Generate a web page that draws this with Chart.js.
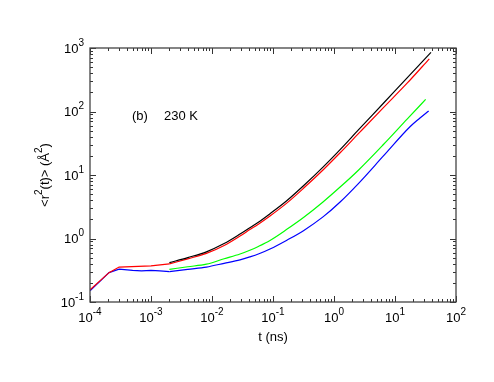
<!DOCTYPE html>
<html>
<head>
<meta charset="utf-8">
<script src="https://cdn.jsdelivr.net/npm/chart.js@4.4.0/dist/chart.umd.min.js"></script>
<style>
  html, body { margin: 0; padding: 0; background: #fff; }
</style>
</head>
<body>
<canvas id="msdChart" width="494" height="382"></canvas>
<script>
// time axis (ns) and <r^2(t)> (A^2)
const blackT = [0.002, 0.004, 0.0081, 0.0158, 0.0288, 0.0417, 0.0575, 0.0893, 0.166, 0.316, 0.66, 1.26, 2.51, 6.46, 15.8, 38.9];
const blackR = [0.417, 0.501, 0.617, 0.832, 1.175, 1.479, 1.80, 2.455, 3.89, 6.76, 13.3, 25.1, 51.3, 135, 339, 851];

// short-time part (straight segments) and long-time part
const redEarlyT = [0.0001, 0.000205, 0.0003, 0.001, 0.002];
const redEarlyR = [0.155, 0.29, 0.355, 0.37, 0.398];
const redT = [0.002, 0.004, 0.0081, 0.0158, 0.0288, 0.0417, 0.0575, 0.0893, 0.166, 0.316, 0.66, 1.26, 2.51, 6.46, 15.8, 36.5];
const redR = [0.398, 0.479, 0.582, 0.776, 1.096, 1.38, 1.68, 2.26, 3.57, 6.17, 12.0, 22.4, 44.7, 115, 279, 676];

const greenT = [0.002, 0.004, 0.0081, 0.0158, 0.0288, 0.0417, 0.0575, 0.0893, 0.166, 0.316, 0.66, 1.26, 2.51, 6.46, 15.8, 31.8];
const greenR = [0.327, 0.359, 0.394, 0.479, 0.569, 0.653, 0.75, 0.933, 1.38, 2.14, 3.76, 6.46, 11.9, 30.2, 75.9, 155];

const blueEarlyT = [0.0001, 0.000205, 0.0003, 0.0005, 0.0007, 0.001, 0.0014, 0.002];
const blueEarlyR = [0.15, 0.29, 0.33, 0.315, 0.31, 0.315, 0.31, 0.30];
const blueT = [0.002, 0.004, 0.0081, 0.0158, 0.0288, 0.0417, 0.0575, 0.0893, 0.166, 0.316, 0.66, 1.26, 2.51, 6.46, 17.6, 25.1, 35.6];
const blueR = [0.30, 0.327, 0.355, 0.407, 0.462, 0.513, 0.569, 0.684, 0.933, 1.33, 2.19, 3.76, 7.33, 19.95, 57.5, 77.6, 102];

const xExps = [-4, -3, -2, -1, 0, 1, 2];
const yExps = [-1, 0, 1, 2, 3];

const FONT = '"Liberation Sans", Arial, Helvetica, sans-serif';

function pts(t, r) {
    return t.map((v, i) => ({ x: v, y: r[i] }));
}

function line(label, t, r, color, smooth) {
    return {
        label,
        data: pts(t, r),
        borderColor: color,
        backgroundColor: color,
        borderWidth: 1.2,
        pointRadius: 0,
        tension: 0,
        cubicInterpolationMode: smooth ? "monotone" : "default",
        fill: false
    };
}

// draw "10" with a raised exponent
function drawPow(ctx, exp, x, y, align) {
    const base = "10";
    const sup = String(exp);
    ctx.font = "13px " + FONT;
    const bw = ctx.measureText(base).width;
    ctx.font = "10px " + FONT;
    const sw = ctx.measureText(sup).width;
    const total = bw + sw;
    let x0 = x;
    if (align === "center") x0 = x - total / 2;
    if (align === "right") x0 = x - total;
    ctx.textAlign = "left";
    ctx.textBaseline = "middle";
    ctx.font = "13px " + FONT;
    ctx.fillText(base, x0, y);
    ctx.font = "10px " + FONT;
    ctx.fillText(sup, x0 + bw, y - 6);
}

// text pieces: [string, isSuperscript]
function drawRich(ctx, parts, cx, cy) {
    let w = 0;
    parts.forEach(p => {
        ctx.font = (p[1] ? "10px " : "13px ") + FONT;
        w += ctx.measureText(p[0]).width;
    });
    let x = cx - w / 2;
    ctx.textAlign = "left";
    ctx.textBaseline = "middle";
    parts.forEach(p => {
        ctx.font = (p[1] ? "10px " : "13px ") + FONT;
        ctx.fillText(p[0], x, p[1] ? cy - 6 : cy);
        x += ctx.measureText(p[0]).width;
    });
}

const frame = {
    id: "frame",
    afterDraw(chart) {
        const ctx = chart.ctx;
        const a = chart.chartArea;
        const xs = chart.scales.x;
        const ys = chart.scales.y;
        ctx.save();

        // ticks, inward on all four sides
        ctx.strokeStyle = "#333";
        ctx.lineWidth = 1;
        ctx.beginPath();
        xExps.forEach((e, i) => {
            const steps = i < xExps.length - 1 ? [1, 2, 3, 4, 5, 6, 7, 8, 9] : [1];
            steps.forEach(k => {
                const px = Math.round(xs.getPixelForValue(k * Math.pow(10, e))) + 0.5;
                const len = k === 1 ? 6 : 3;
                ctx.moveTo(px, a.bottom);
                ctx.lineTo(px, a.bottom - len);
                ctx.moveTo(px, a.top);
                ctx.lineTo(px, a.top + len);
            });
        });
        yExps.forEach((e, i) => {
            const steps = i < yExps.length - 1 ? [1, 2, 3, 4, 5, 6, 7, 8, 9] : [1];
            steps.forEach(k => {
                const py = Math.round(ys.getPixelForValue(k * Math.pow(10, e))) + 0.5;
                const len = k === 1 ? 6 : 3;
                ctx.moveTo(a.left, py);
                ctx.lineTo(a.left + len, py);
                ctx.moveTo(a.right, py);
                ctx.lineTo(a.right - len, py);
            });
        });
        ctx.stroke();

        // border
        ctx.strokeStyle = "#444";
        ctx.lineWidth = 1.3;
        ctx.strokeRect(a.left, a.top, a.right - a.left, a.bottom - a.top);

        // tick labels
        ctx.fillStyle = "#000";
        xExps.forEach(e => {
            drawPow(ctx, e, xs.getPixelForValue(Math.pow(10, e)), a.bottom + 16, "center");
        });
        yExps.forEach(e => {
            drawPow(ctx, e, a.left - 6, ys.getPixelForValue(Math.pow(10, e)) + 1, "right");
        });

        // axis titles
        drawRich(ctx, [["t (ns)", false]], (a.left + a.right) / 2, 337);
        ctx.save();
        ctx.translate(45, (a.top + a.bottom) / 2);
        ctx.rotate(-Math.PI / 2);
        drawRich(ctx, [["<r", false], ["2", true], ["(t)> (", false], ["Å", false], ["2", true], [")", false]], 0, 0);
        ctx.restore();

        // label inside the plot
        ctx.font = "13px " + FONT;
        ctx.textAlign = "left";
        ctx.textBaseline = "middle";
        ctx.fillText("(b)", 132, 116);
        ctx.fillText("230 K", 164, 116);

        ctx.restore();
    }
};

new Chart(document.getElementById("msdChart").getContext("2d"), {
    type: "line",
    data: {
        datasets: [
            line("black", blackT, blackR, "#000000", true),
            line("red", redT, redR, "#ff0000", true),
            line("red early", redEarlyT, redEarlyR, "#ff0000", false),
            line("green", greenT, greenR, "#00ff00", true),
            line("blue", blueT, blueR, "#0000ff", true),
            line("blue early", blueEarlyT, blueEarlyR, "#0000ff", false)
        ]
    },
    options: {
        responsive: false,
        animation: false,
        layout: { padding: { left: 90, right: 38, top: 48, bottom: 80 } },
        plugins: {
            legend: { display: false },
            tooltip: { enabled: false }
        },
        scales: {
            x: { type: "logarithmic", min: 1e-4, max: 1e2, display: false },
            y: { type: "logarithmic", min: 1e-1, max: 1e3, display: false }
        }
    },
    plugins: [frame]
});
</script>
</body>
</html>
